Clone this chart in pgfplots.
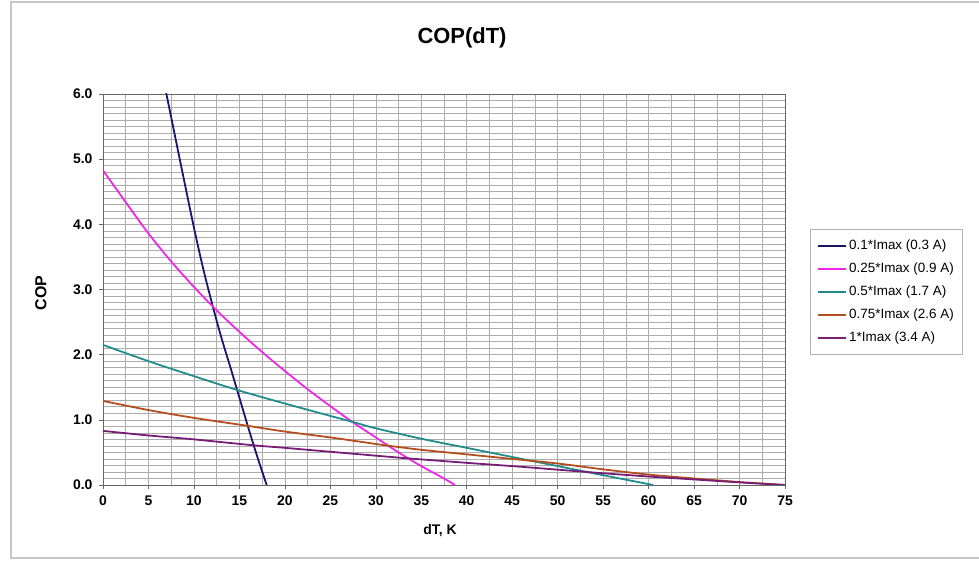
\documentclass[border=0pt]{standalone}
\usepackage{pgfplots}
\pgfplotsset{compat=1.18}
\usepackage{fontspec}
\setmainfont{Liberation Sans}

\definecolor{cnavy}{RGB}{25,22,112}
\definecolor{cmag}{RGB}{238,40,228}
\definecolor{cteal}{RGB}{32,140,140}
\definecolor{cbrown}{RGB}{180,78,30}
\definecolor{cpurp}{RGB}{118,30,118}
\definecolor{cgrid}{RGB}{172,172,172}

\begin{document}
\begin{tikzpicture}[x=1bp,y=1bp]
  \useasboundingbox (0,0) rectangle (979,562);
  \draw[gray!45, line width=1.2bp] (979,560) -- (11,560) -- (11,4) -- (979,4);

  \begin{axis}[
      at={(103bp,77bp)}, anchor=south west,
      scale only axis, width=682bp, height=391bp,
      xmin=0, xmax=75, ymin=0, ymax=6,
      xtick distance=5, minor x tick num=1,
      ytick distance=1, minor y tick num=9,
      grid=both,
      major grid style={cgrid, line width=0.6bp},
      minor grid style={cgrid, line width=0.6bp},
      axis line style={gray!80!black, line width=0.8bp},
      tick style={gray!80!black, line width=0.6bp},
      tick align=outside, major tick length=4bp, minor tick length=0pt,
      xtick pos=bottom, ytick pos=left,
      tick label style={font=\fontsize{14}{14}\selectfont\bfseries},
      /pgf/number format/assume math mode=true,
      yticklabel style={/pgf/number format/.cd, fixed, fixed zerofill, precision=1},
      xticklabel style={/pgf/number format/.cd, fixed, precision=0},
      xticklabel shift=3bp, yticklabel shift=3bp,
      clip=true,
      legend cell align=left,
      legend style={at={(1.0367,0.6547)}, anchor=north west,
        draw=gray!60, line width=0.6bp,
        font=\fontsize{13.5}{13.5}\selectfont,
        nodes={text height=10bp, text depth=3bp},
        inner xsep=7bp, inner ysep=8bp, row sep=6bp},
      legend image code/.code={\draw[#1, line width=1.8bp] (0bp,0bp) -- (28bp,0bp);},
      every axis plot/.append style={line width=1.8bp, smooth, tension=0.5},
  ]

  \addplot[color=cnavy] coordinates {
    (6.9,6.05)(8,5.3)(9,4.62)(10,3.95)(11,3.33)(12,2.78)(13,2.27)
    (14,1.81)(15,1.34)(16,0.87)(17,0.42)(18,0.0)
  };
  \addlegendentry{0.1*Imax (0.3 A)}

  \addplot[color=cmag] coordinates {
    (0,4.83)(2.5,4.34)(5,3.86)(7.5,3.43)(10,3.04)(12.5,2.68)(15,2.35)
    (17.5,2.04)(20,1.75)(22.5,1.47)(25,1.21)(27.5,0.96)(30,0.73)
    (32.5,0.5)(35,0.29)(37.5,0.1)(38.7,0.0)
  };
  \addlegendentry{0.25*Imax (0.9 A)}

  \addplot[color=cteal] coordinates {
    (0,2.15)(5,1.9)(10,1.67)(14.7,1.46)(20,1.25)(25,1.06)(27.4,0.97)
    (30,0.87)(35,0.71)(40,0.57)(45,0.43)(50,0.29)(55,0.15)(60.5,0.0)
  };
  \addlegendentry{0.5*Imax (1.7 A)}

  \addplot[color=cbrown] coordinates {
    (0,1.29)(5,1.15)(10,1.03)(15.8,0.91)(20,0.82)(25,0.73)(31,0.61)
    (35,0.54)(40,0.47)(45,0.40)(50,0.33)(55,0.24)(60,0.16)(65,0.10)
    (70,0.045)(75,0.0)
  };
  \addlegendentry{0.75*Imax (2.6 A)}

  \addplot[color=cpurp] coordinates {
    (0,0.83)(5,0.76)(10,0.70)(16.5,0.61)(20,0.57)(25,0.51)(30,0.45)
    (33.4,0.41)(40,0.34)(45,0.29)(50,0.235)(55,0.18)(60,0.13)(65,0.085)
    (70,0.04)(75,0.0)
  };
  \addlegendentry{1*Imax (3.4 A)}

  \end{axis}

  \node[font=\fontsize{22}{22}\selectfont\bfseries] at (462,524) {COP(dT)};
  \node[font=\fontsize{16}{16}\selectfont\bfseries, rotate=90] at (41,269) {COP};
  \node[font=\fontsize{14}{14}\selectfont\bfseries] at (440,31) {dT, K};
\end{tikzpicture}
\end{document}
